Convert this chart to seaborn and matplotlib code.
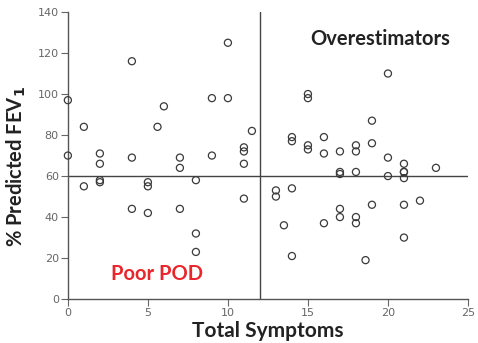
import numpy as np
import pandas as pd
import seaborn as sns
from matplotlib import pyplot as plt

# values
symptoms = [0, 0, 1, 1, 2, 2, 2, 2, 4, 4, 4, 5, 5, 5, 5.6, 6, 7, 7, 7,
            8, 8, 8, 9, 9, 10, 10, 11, 11, 11, 11, 11.5,
            13, 13, 13.5, 14, 14, 14, 14, 15, 15, 15, 15, 16, 16, 16,
            17, 17, 17, 17, 17, 18, 18, 18, 18, 18, 18.6, 19, 19, 19,
            20, 20, 20, 21, 21, 21, 21, 21, 21, 22, 23]
fev1 = [97, 70, 84, 55, 71, 66, 58, 57, 116, 69, 44, 57, 55, 42, 84, 94, 69, 64, 44,
        58, 32, 23, 98, 70, 125, 98, 74, 72, 66, 49, 82,
        53, 50, 36, 79, 77, 54, 21, 100, 98, 75, 73, 79, 71, 37,
        72, 62, 61, 44, 40, 75, 72, 62, 40, 37, 19, 87, 76, 46,
        110, 69, 60, 66, 62, 59, 46, 30, 62, 48, 64]
x_ticks = [0, 5, 10, 15, 20, 25]
y_ticks = [0, 20, 40, 60, 80, 100, 120, 140]
cut_symptoms = 12
cut_fev1 = 60

df = pd.DataFrame({'symptoms': symptoms, 'fev1': fev1})

sns.set_style('ticks')
plt.rcParams['font.family'] = ['Lato', 'DejaVu Sans']

fig = plt.figure(figsize=(4.78, 3.43), dpi=100)
ax = fig.add_axes([0.142, 0.128, 0.837, 0.837])

sns.scatterplot(data=df, x='symptoms', y='fev1', ax=ax, marker='o', s=26,
                facecolor='none', edgecolor='#3a3a3a', linewidth=0.9,
                clip_on=False, zorder=3)

ax.axvline(cut_symptoms, color='#444444', lw=1.0)
ax.axhline(cut_fev1, color='#444444', lw=1.0)

ax.set_xlim(0, 25)
ax.set_ylim(0, 140)
ax.set_xticks(x_ticks)
ax.set_yticks(y_ticks)
for lab in ax.get_xticklabels() + ax.get_yticklabels():
    lab.set_family('DejaVu Sans')
ax.tick_params(labelsize=8, colors='#666666', length=5, width=0.8, pad=1.5)
sns.despine(ax=ax)
for sp in ['left', 'bottom']:
    ax.spines[sp].set_color('#555555')
    ax.spines[sp].set_linewidth(1.0)

ax.set_xlabel('Total Symptoms', fontsize=15, fontweight='bold', color='#222222', labelpad=2)
ax.set_ylabel('% Predicted FEV$_\\mathbf{1}$', fontsize=14.5, fontweight='bold', color='#222222')
ax.yaxis.set_label_coords(-0.1, 0.46)

ax.text(19.5, 127, 'Overestimators', fontsize=14.5, fontweight='bold', color='#222222',
        ha='center', va='center')
ax.text(5.6, 12, 'Poor POD', fontsize=14.5, fontweight='bold', color='#e8262b',
        ha='center', va='center')

fig.savefig('out.png', dpi=100)
